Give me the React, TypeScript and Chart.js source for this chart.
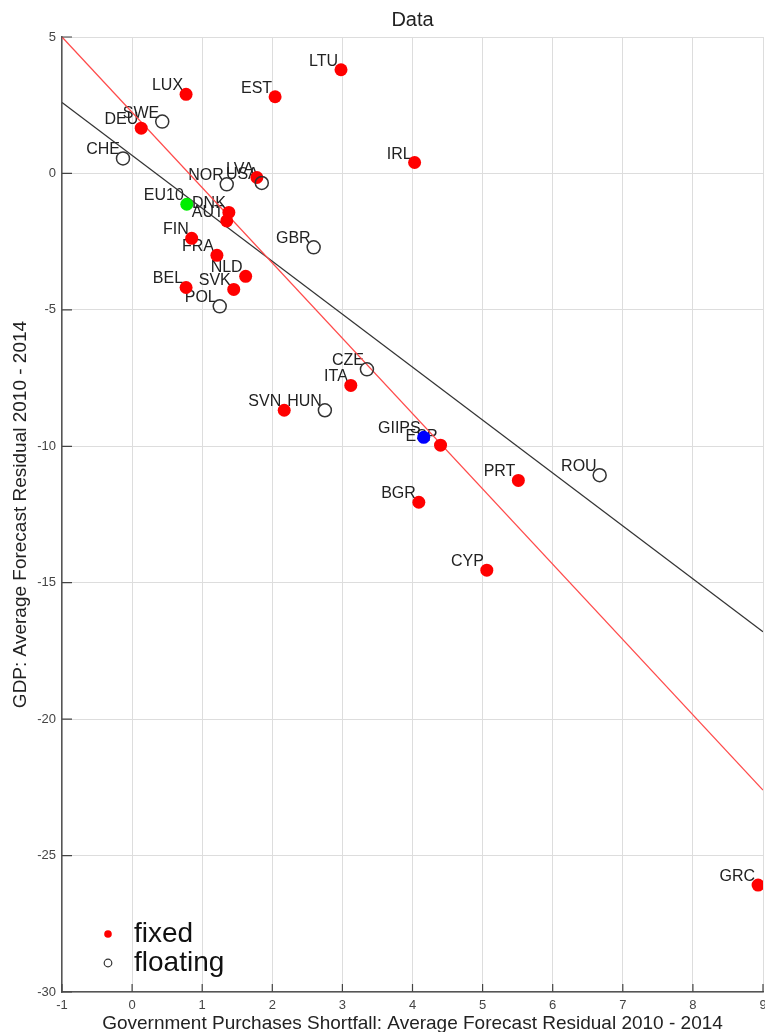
import React, { useEffect, useRef } from "react";
import { Chart, registerables } from "chart.js";

Chart.register(...registerables);

const fixedNames = ["LUX", "EST", "LTU", "DEU", "IRL", "LVA", "DNK", "AUT", "FIN", "FRA", "NLD", "SVK", "BEL", "ITA", "SVN", "ESP", "PRT", "BGR", "CYP", "GRC"];
const fixedX = [0.77, 2.04, 2.98, 0.13, 4.03, 1.78, 1.38, 1.35, 0.85, 1.21, 1.62, 1.45, 0.77, 3.12, 2.17, 4.40, 5.51, 4.09, 5.06, 8.93];
const fixedY = [2.9, 2.81, 3.8, 1.66, 0.4, -0.15, -1.43, -1.74, -2.38, -3.0, -3.77, -4.25, -4.18, -7.77, -8.68, -9.96, -11.25, -12.05, -14.54, -26.08];

const floatNames = ["SWE", "CHE", "NOR", "USA", "GBR", "POL", "CZE", "HUN", "ROU"];
const floatX = [0.43, -0.13, 1.35, 1.85, 2.59, 1.25, 3.35, 2.75, 6.67];
const floatY = [1.9, 0.55, -0.4, -0.35, -2.71, -4.87, -7.18, -8.68, -11.06];

const eu10Names = ["EU10"];
const eu10X = [0.78];
const eu10Y = [-1.13];

const giipsNames = ["GIIPS"];
const giipsX = [4.16];
const giipsY = [-9.67];

const fixedFitX = [-1, 9];
const fixedFitY = [5.0, -22.6];
const floatFitX = [-1, 9];
const floatFitY = [2.6, -16.8];

const xMin = -1, xMax = 9, xStep = 1;
const yMin = -30, yMax = 5, yStep = 5;

const legendLabels = ["fixed", "floating"];

const FONT = "'Liberation Sans', Arial, sans-serif";

const pts = (xs: number[], ys: number[]) => xs.map((x, i) => ({ x, y: ys[i] }));

export default function App() {
  const ref = useRef<HTMLCanvasElement | null>(null);

  useEffect(() => {
    if (!ref.current) return;

    const labelPlugin = {
      id: "pointLabels",
      beforeDatasetsDraw(chart: any) {
        const ctx = chart.ctx;
        ctx.save();
        ctx.font = `16px ${FONT}`;
        ctx.fillStyle = "#222";
        ctx.textAlign = "right";
        ctx.textBaseline = "alphabetic";
        chart.data.datasets.forEach((ds: any, i: number) => {
          if (!ds.names) return;
          const meta = chart.getDatasetMeta(i);
          meta.data.forEach((el: any, j: number) => {
            ctx.fillText(ds.names[j], el.x - 3, el.y - 4);
          });
        });
        ctx.restore();
      },
    };

    const tickPlugin = {
      id: "innerTicks",
      afterDraw(chart: any) {
        const ctx = chart.ctx;
        const { left, bottom } = chart.chartArea;
        const xs = chart.scales.x;
        const ys = chart.scales.y;
        ctx.save();
        ctx.strokeStyle = "#444";
        ctx.lineWidth = 1.2;
        ctx.beginPath();
        xs.ticks.forEach((t: any) => {
          const px = xs.getPixelForValue(t.value);
          ctx.moveTo(px, bottom);
          ctx.lineTo(px, bottom - 8);
        });
        ys.ticks.forEach((t: any) => {
          const py = ys.getPixelForValue(t.value);
          ctx.moveTo(left, py);
          ctx.lineTo(left + 10, py);
        });
        ctx.stroke();

        // legend
        const lx = left + 46;
        const ly1 = bottom - 58;
        const ly2 = bottom - 29;
        ctx.fillStyle = "#ff0000";
        ctx.beginPath();
        ctx.arc(lx, ly1, 3.8, 0, Math.PI * 2);
        ctx.fill();
        ctx.strokeStyle = "#333";
        ctx.lineWidth = 1.2;
        ctx.beginPath();
        ctx.arc(lx, ly2, 3.8, 0, Math.PI * 2);
        ctx.stroke();
        ctx.fillStyle = "#111";
        ctx.font = `28px ${FONT}`;
        ctx.textAlign = "left";
        ctx.textBaseline = "middle";
        ctx.fillText(legendLabels[0], lx + 26, ly1);
        ctx.fillText(legendLabels[1], lx + 26, ly2);
        ctx.restore();
      },
    };

    const chart = new Chart(ref.current, {
      type: "scatter",
      data: {
        datasets: [
          {
            label: "GIIPS",
            names: giipsNames,
            data: pts(giipsX, giipsY),
            backgroundColor: "#0000ff",
            borderWidth: 0,
            pointRadius: 6.5,
          } as any,
          {
            label: "EU10",
            names: eu10Names,
            data: pts(eu10X, eu10Y),
            backgroundColor: "#00ee00",
            borderWidth: 0,
            pointRadius: 6.5,
          } as any,
          {
            label: "floating",
            names: floatNames,
            data: pts(floatX, floatY),
            backgroundColor: "rgba(255,255,255,0)",
            borderColor: "#333",
            borderWidth: 1.5,
            pointRadius: 6.5,
          } as any,
          {
            label: "fixed",
            names: fixedNames,
            data: pts(fixedX, fixedY),
            backgroundColor: "#ff0000",
            borderWidth: 0,
            pointRadius: 6.5,
          } as any,
          {
            label: "fixed fit",
            data: pts(fixedFitX, fixedFitY),
            showLine: true,
            borderColor: "#ff4a4a",
            borderWidth: 1.3,
            pointRadius: 0,
            fill: false,
          } as any,
          {
            label: "floating fit",
            data: pts(floatFitX, floatFitY),
            showLine: true,
            borderColor: "#333",
            borderWidth: 1.3,
            pointRadius: 0,
            fill: false,
          } as any,
        ],
      },
      options: {
        animation: false,
        responsive: false,
        maintainAspectRatio: false,
        devicePixelRatio: 1,
        layout: { padding: { left: 0, right: 37, top: 0, bottom: 0 } },
        plugins: {
          legend: { display: false },
          tooltip: { enabled: false },
          title: {
            display: true,
            text: "Data",
            fullSize: false,
            color: "#222",
            font: { family: FONT, size: 20, weight: "normal" as any, lineHeight: 1.2 },
            padding: { top: 8, bottom: 5 },
          },
        },
        scales: {
          x: {
            type: "linear",
            min: xMin,
            max: xMax,
            afterFit(scale: any) {
              scale.height = 40;
            },
            ticks: { stepSize: xStep, color: "#444", font: { family: FONT, size: 13 }, padding: 6, maxRotation: 0 },
            grid: { color: "#dddddd", lineWidth: 1, drawTicks: false },
            border: { display: true, color: "#555", width: 1.5 },
            title: {
              display: true,
              text: "Government Purchases Shortfall: Average Forecast Residual 2010 - 2014",
              color: "#222",
              font: { family: FONT, size: 19, lineHeight: 1.2 },
              padding: { top: 0, bottom: -3 },
            },
          },
          y: {
            type: "linear",
            min: yMin,
            max: yMax,
            afterFit(scale: any) {
              scale.width = 62;
            },
            ticks: { stepSize: yStep, color: "#444", font: { family: FONT, size: 13 }, padding: 6 },
            grid: { color: "#dddddd", lineWidth: 1, drawTicks: false },
            border: { display: true, color: "#555", width: 1.5 },
            title: {
              display: true,
              text: "GDP: Average Forecast Residual 2010 - 2014",
              color: "#222",
              font: { family: FONT, size: 19, lineHeight: 1.2 },
              padding: { top: 9, bottom: 0 },
            },
          },
        },
      } as any,
      plugins: [labelPlugin, tickPlugin],
    });

    return () => chart.destroy();
  }, []);

  return (
    <div style={{ position: "absolute", left: 0, top: 0, width: 765, height: 1032, overflow: "hidden", background: "#fff" }}>
      <canvas ref={ref} width={800} height={1032} style={{ display: "block", width: 800, height: 1032 }} />
    </div>
  );
}
